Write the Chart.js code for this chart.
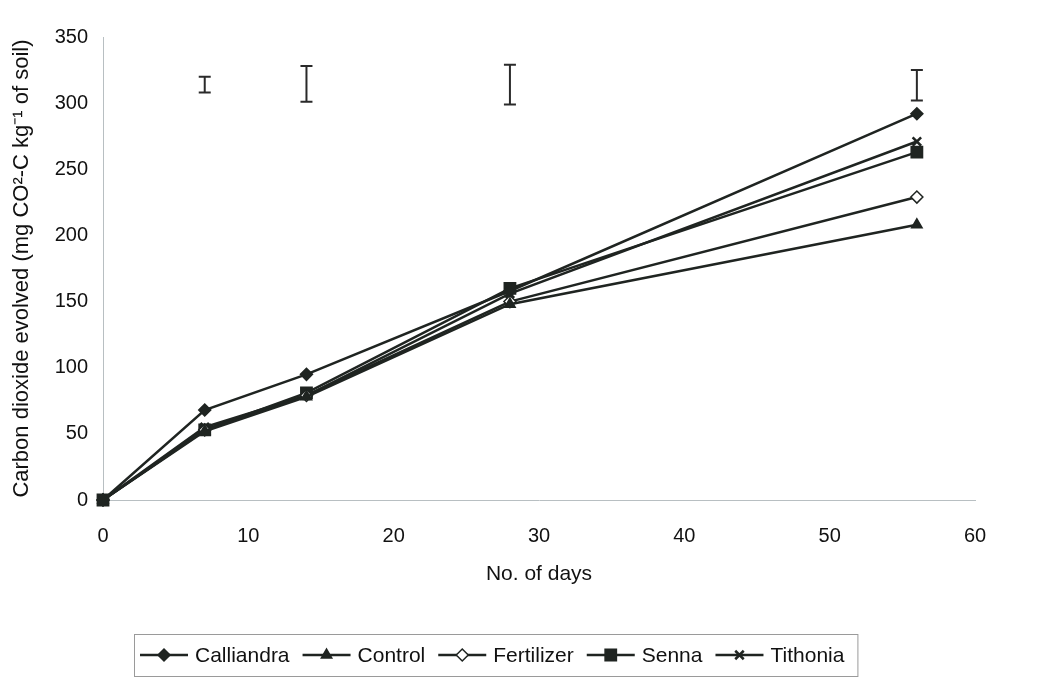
<!DOCTYPE html>
<html lang="en">
<head>
<meta charset="utf-8">
<title>Carbon dioxide evolved</title>
<script src="https://cdn.jsdelivr.net/npm/chart.js"></script>
<style>
  html, body { margin: 0; padding: 0; background: #fff; }
  .chart-container { position: relative; width: 1049px; height: 687px; }
</style>
</head>
<body>
<div class="chart-container"><canvas id="co2Chart"></canvas></div>
<script>
// sampling days (x axis)
const days = [0, 7, 14, 28, 56];

// cumulative CO2 evolved, mg CO2-C per kg soil
const calliandra = [0, 68, 95, 158, 292];
const control    = [0, 52, 78, 148, 208];
const fertilizer = [0, 53, 79, 150, 229];
const senna      = [0, 53, 81, 160, 263];
const tithonia   = [0, 55, 79, 156, 271];

// LSD bars drawn at the top of the plot
const lsdDays = [7, 14, 28, 56];
const lsdLow  = [308, 301, 299, 302];
const lsdHigh = [320, 328, 329, 325];

const xTicks = [0, 10, 20, 30, 40, 50, 60];
const yTicks = [0, 50, 100, 150, 200, 250, 300, 350];

const ink = '#1f2421';
const fontFamily = '"Liberation Sans", Arial, sans-serif';

function series(label, data, style, radius, fillColor) {
    return {
        label: label,
        data: data.map((v, i) => ({ x: days[i], y: v })),
        borderColor: ink,
        borderWidth: 2.5,
        pointStyle: style,
        pointRadius: radius,
        pointBorderWidth: style === 'crossRot' ? 2.5 : 1.5,
        pointBackgroundColor: fillColor,
        pointBorderColor: ink,
        fill: false,
        clip: false,
        tension: 0
    };
}

const datasets = [
    series('Calliandra', calliandra, 'rectRot', 6, ink),
    series('Control', control, 'triangle', 6, ink),
    series('Fertilizer', fertilizer, 'rectRot', 6, '#ffffff'),
    series('Senna', senna, 'rect', 8, ink),
    series('Tithonia', tithonia, 'crossRot', 6, ink)
];

// LSD error bars, placed through the chart scales
const lsdBars = {
    id: 'lsdBars',
    afterDatasetsDraw(chart) {
        const { ctx, scales: { x, y } } = chart;
        ctx.save();
        ctx.strokeStyle = '#2a2a2a';
        ctx.lineWidth = 2;
        lsdDays.forEach((d, i) => {
            const px = x.getPixelForValue(d);
            const top = y.getPixelForValue(lsdHigh[i]);
            const bot = y.getPixelForValue(lsdLow[i]);
            ctx.beginPath();
            ctx.moveTo(px, top); ctx.lineTo(px, bot);
            ctx.moveTo(px - 6, top); ctx.lineTo(px + 6, top);
            ctx.moveTo(px - 6, bot); ctx.lineTo(px + 6, bot);
            ctx.stroke();
        });
        ctx.restore();
    }
};

// boxed legend at the bottom: line - marker - line, then the label
const boxLegend = {
    id: 'boxLegend',
    afterDraw(chart) {
        const ctx = chart.ctx;
        const top = 634, bottom = 676, left = 134;
        const midY = (top + bottom) / 2;
        ctx.save();
        ctx.font = '21px ' + fontFamily;
        ctx.textBaseline = 'middle';
        let cx = left + 6;
        chart.data.datasets.forEach(ds => {
            ctx.strokeStyle = ink;
            ctx.lineWidth = 2.5;
            ctx.beginPath();
            ctx.moveTo(cx, midY); ctx.lineTo(cx + 48, midY);
            ctx.stroke();
            ctx.fillStyle = ds.pointBackgroundColor;
            ctx.lineWidth = ds.pointBorderWidth;
            Chart.helpers.drawPoint(ctx, {
                pointStyle: ds.pointStyle,
                radius: ds.pointRadius,
                borderWidth: ds.pointBorderWidth,
                rotation: 0
            }, cx + 24, midY);
            ctx.fillStyle = '#111';
            ctx.fillText(ds.label, cx + 55, midY + 1);
            cx += 55 + ctx.measureText(ds.label).width + 13;
        });
        ctx.strokeStyle = '#9a9a9a';
        ctx.lineWidth = 1;
        ctx.strokeRect(left + 0.5, top + 0.5, cx - left, bottom - top);
        ctx.restore();
    }
};

const ctx = document.getElementById('co2Chart').getContext('2d');
new Chart(ctx, {
    type: 'line',
    data: { datasets: datasets },
    plugins: [lsdBars, boxLegend],
    options: {
        responsive: true,
        maintainAspectRatio: false,
        animation: false,
        layout: { padding: { left: 0, right: 74, top: 37, bottom: 90 } },
        plugins: {
            legend: { display: false },
            tooltip: { enabled: false }
        },
        scales: {
            x: {
                type: 'linear',
                min: 0,
                max: 60,
                afterFit: scale => { scale.height = 97; },
                afterBuildTicks: scale => { scale.ticks = xTicks.map(v => ({ value: v })); },
                grid: { display: false, drawTicks: false },
                border: { display: true, color: '#b8bfc2', width: 1, dash: [3, 2] },
                ticks: { color: '#111', padding: 24, font: { family: fontFamily, size: 20 } },
                title: {
                    display: true,
                    text: 'No. of days',
                    color: '#111',
                    font: { family: fontFamily, size: 21 },
                    padding: { top: 0, bottom: 10 }
                }
            },
            y: {
                min: 0,
                max: 350,
                afterFit: scale => { scale.width = 103; },
                afterBuildTicks: scale => { scale.ticks = yTicks.map(v => ({ value: v })); },
                grid: { display: false, drawTicks: false },
                border: { display: true, color: '#b8bfc2', width: 1, dash: [3, 2] },
                ticks: { color: '#111', padding: 15, font: { family: fontFamily, size: 20 } },
                title: {
                    display: true,
                    text: 'Carbon dioxide evolved (mg CO²-C kg⁻¹ of soil)',
                    color: '#111',
                    font: { family: fontFamily, size: 22 },
                    padding: { top: 9, bottom: 0 }
                }
            }
        }
    }
});
</script>
</body>
</html>
